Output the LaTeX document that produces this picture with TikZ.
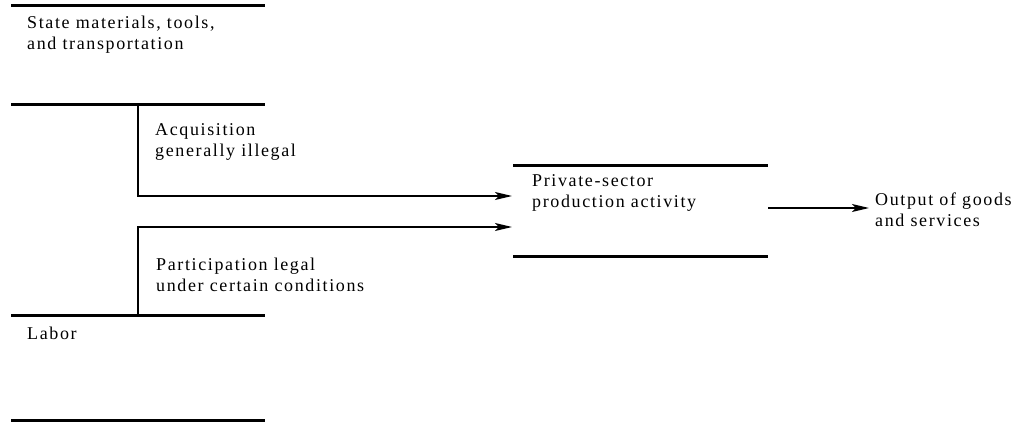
\documentclass[tikz,border=0pt]{standalone}
\usepackage{fontspec}
\setmainfont{Liberation Serif}[LetterSpace=9]
\usetikzlibrary{arrows.meta}
\newcommand{\drawbar}{\draw[line width=3pt]}
\tikzset{
  caption/.style={anchor=base west, align=left, inner sep=0pt,
    font=\fontsize{18}{21.5}\selectfont},
  flow/.style={line width=1.3pt, -{Stealth[length=17pt,width=8pt,inset=4pt]}}
}
\begin{document}
\begin{tikzpicture}[x=1pt,y=-1pt]
\useasboundingbox (0,0) rectangle (1021,422);
% resource bars on the left
\drawbar (11,6)--(265,6);
\drawbar (11,105)--(265,105);
\drawbar (11,316)--(265,316);
\drawbar (11,420)--(265,420);
% production block
\node[minimum width=255pt, minimum height=90pt, inner sep=0pt, anchor=north west] (prod) at (513,166) {};
\drawbar (prod.north west)--(prod.north east);
\drawbar (prod.south west)--(prod.south east);
% captions (base = last line)
\node[caption] (state) at (27,50) {State materials, tools,\\and transportation};
\node[caption] (acq) at (155,157) {Acquisition\\generally illegal};
\node[caption] (part) at (156,292) {Participation legal\\under certain conditions};
\node[caption] (labor) at (27,339) {Labor};
\node[caption] (private) at (532,208) {Private-sector\\production activity};
\node[caption] (output) at (875,227) {Output of goods\\and services};
% connectors
\coordinate (ja) at (138,105);
\coordinate (jb) at (138,316);
\coordinate (ina) at (512,196);
\coordinate (inb) at (512,227);
\coordinate (outa) at (768,208);
\coordinate (outb) at (869,208);
\draw[flow] (ja) |- (ina);
\draw[flow] (jb) |- (inb);
\draw[flow] (outa) -- (outb);
\end{tikzpicture}
\end{document}
